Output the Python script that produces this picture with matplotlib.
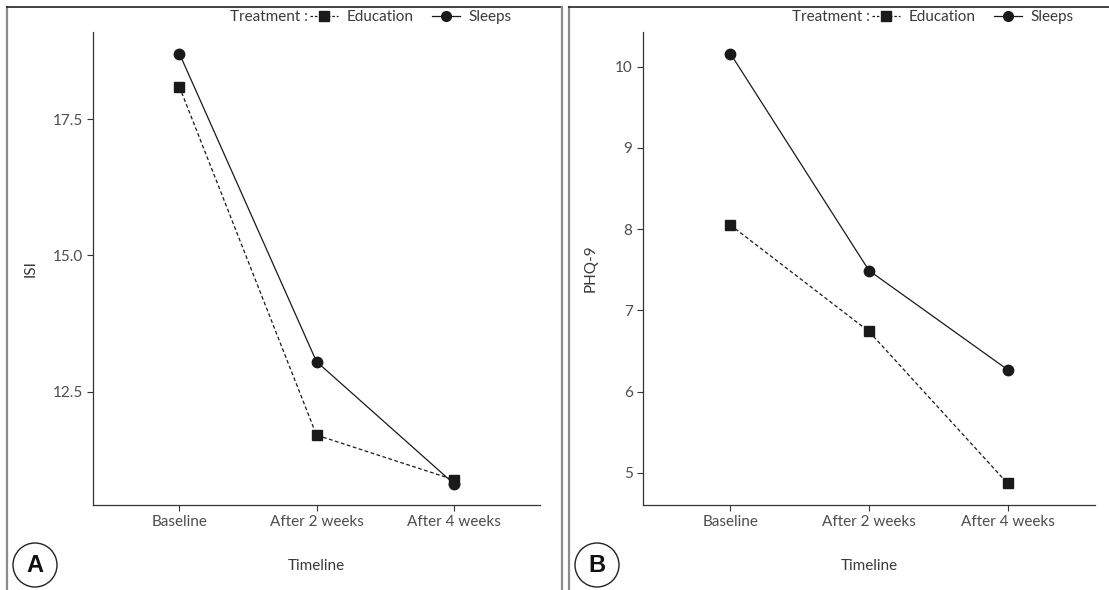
import numpy as np
import matplotlib
matplotlib.use('Agg')
import matplotlib.pyplot as plt
from matplotlib.lines import Line2D
from matplotlib.patches import Ellipse

plt.rcParams['font.family'] = ['Lato', 'DejaVu Sans']

# 資料
timeline = ['Baseline', 'After 2 weeks', 'After 4 weeks']
isi_education = [18.1, 11.7, 10.88]
isi_sleeps = [18.71, 13.05, 10.81]
phq_education = [8.05, 6.74, 4.87]
phq_sleeps = [10.16, 7.49, 6.27]

panels = [
    ('A', 'ISI', isi_education, isi_sleeps, [12.5, 15.0, 17.5], ['12.5', '15.0', '17.5']),
    ('B', 'PHQ-9', phq_education, phq_sleeps, [5, 6, 7, 8, 9, 10], ['5', '6', '7', '8', '9', '10']),
]

W, H = 1109, 590
fig = plt.figure(figsize=(W / 100, H / 100), dpi=100)

txt = '#3a3a3a'
ax_pos = [(93, 540), (643, 1095)]
frames = [(7, 562), (569, 1109)]
ylab_x = [38, 598]

for (letter, ylab, edu, slp, yt, ytl), (x0, x1), (f0, f1), yx in zip(panels, ax_pos, frames, ylab_x):
    ax = fig.add_axes([x0 / W, (H - 505) / H, (x1 - x0) / W, (505 - 32) / H])
    x = np.arange(len(timeline))
    ax.plot(x, edu, color='#1a1a1a', lw=0.9, ls=(0, (3, 2)), marker='s', ms=7.5)
    ax.plot(x, slp, color='#1a1a1a', lw=0.9, ls='-', marker='o', ms=7.5)

    lo = min(min(edu), min(slp))
    hi = max(max(edu), max(slp))
    pad = (hi - lo) * 0.05
    ax.set_ylim(lo - pad, hi + pad)
    ax.set_xlim(-0.63, 2.63)
    ax.set_xticks(x)
    ax.set_xticklabels(timeline)
    ax.set_yticks(yt)
    ax.set_yticklabels(ytl)
    for s in ['top', 'right']:
        ax.spines[s].set_visible(False)
    for s in ['left', 'bottom']:
        ax.spines[s].set_color('#333333')
        ax.spines[s].set_linewidth(0.9)
    ax.tick_params(colors='#333333', labelcolor='#4d4d4d', labelsize=11, length=4, width=0.8)
    ax.set_xlabel('Timeline', fontsize=11, color=txt)
    ax.set_ylabel(ylab, fontsize=11, color=txt)
    ax.xaxis.set_label_coords(0.5, (505 - 559) / 473)
    ax.yaxis.set_label_coords((yx - x0) / (x1 - x0), 0.5)
    ax.patch.set_alpha(0)

    # 圖例
    hx = Line2D([], [], color='#1a1a1a', lw=0.9, ls=(0, (2, 1.5)), marker='s', ms=7)
    hs = Line2D([], [], color='#1a1a1a', lw=0.9, ls='-', marker='o', ms=7)
    leg = ax.legend([hx, hs], ['Education', 'Sleeps'], ncol=2, frameon=False,
                    loc='center right', bbox_to_anchor=((f0 + 505) / W, (H - 17) / H),
                    bbox_transform=fig.transFigure, fontsize=11, handlelength=1.8,
                    handletextpad=0.6, columnspacing=1.2, borderpad=0, borderaxespad=0)
    for t in leg.get_texts():
        t.set_color(txt)
    fig.canvas.draw()
    bb = leg.get_window_extent()
    fig.text(bb.x0 / W - 0.002, (H - 17) / H, 'Treatment :', ha='right', va='center',
             fontsize=11, color=txt)

    # 外框
    fig.add_artist(Line2D([f0 / W, f0 / W], [0, (H - 7) / H], color='#8c8c8c', lw=1.6))
    fig.add_artist(Line2D([f0 / W, min(f1, W) / W], [(H - 7) / H, (H - 7) / H], color='#222222', lw=1.2))
    if f1 < W:
        fig.add_artist(Line2D([f1 / W, f1 / W], [0, (H - 7) / H], color='#8c8c8c', lw=1.6))

    # 標籤圓圈
    cx, cy = f0 + 28, H - 565
    fig.add_artist(Ellipse((cx / W, cy / H), 44 / W, 44 / H, transform=fig.transFigure,
                           fill=False, ec='#222222', lw=1.0))
    fig.text(cx / W, cy / H, letter, ha='center', va='center', fontsize=17,
             fontweight='bold', color='#111111', family=['Liberation Sans', 'DejaVu Sans'])

fig.savefig('out.png', dpi=100)
